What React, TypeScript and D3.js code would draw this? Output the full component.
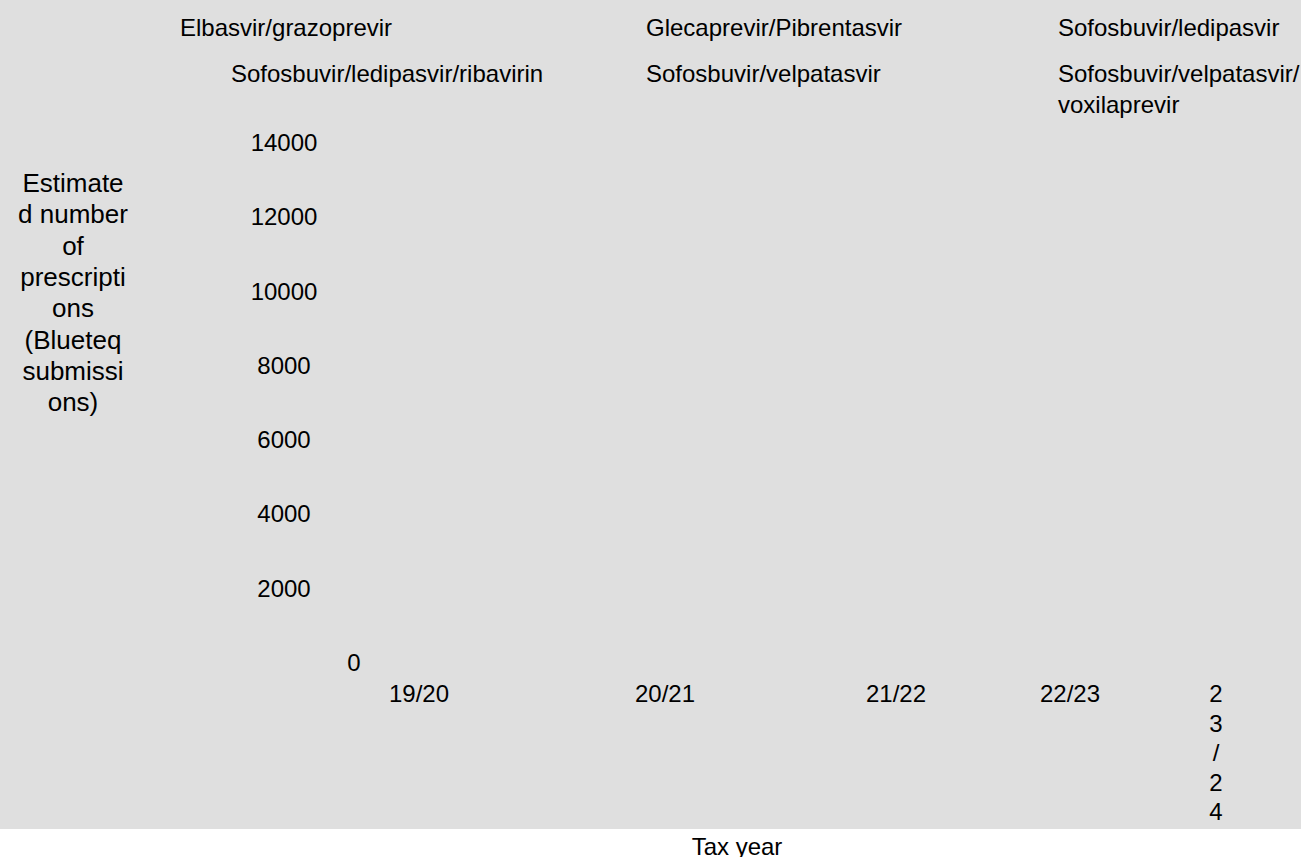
import React from 'react';
import * as d3 from 'd3';

// categories
const taxYears = ['19/20', '20/21', '21/22', '22/23', '23/24'];

// legend entries, in the order the legend shows them
const drugs = [
  'Elbasvir/grazoprevir',
  'Glecaprevir/Pibrentasvir',
  'Sofosbuvir/ledipasvir',
  'Sofosbuvir/ledipasvir/ribavirin',
  'Sofosbuvir/velpatasvir',
  'Sofosbuvir/velpatasvir/voxilaprevir',
];

// series values: no bar is visible in the picture, so every stack reads as 0
const elbasvirGrazoprevir = [0, 0, 0, 0, 0];
const glecaprevirPibrentasvir = [0, 0, 0, 0, 0];
const sofosbuvirLedipasvir = [0, 0, 0, 0, 0];
const sofosbuvirLedipasvirRibavirin = [0, 0, 0, 0, 0];
const sofosbuvirVelpatasvir = [0, 0, 0, 0, 0];
const sofosbuvirVelpatasvirVoxilaprevir = [0, 0, 0, 0, 0];

// tick labels
const yTicks = [0, 2000, 4000, 6000, 8000, 10000, 12000, 14000];
const yTitleLines = ['Estimate', 'd number', 'of', 'prescripti', 'ons', '(Blueteq', 'submissi', 'ons)'];
const xTitle = 'Tax year';

const W = 1301;
const H = 857;
const FONT = '"Liberation Sans", Arial, sans-serif';
const colors = ['#4e79a7', '#f28e2b', '#e15759', '#76b7b2', '#59a14f', '#edc948'];

const App: React.FC = () => {
  const series = [
    elbasvirGrazoprevir,
    glecaprevirPibrentasvir,
    sofosbuvirLedipasvir,
    sofosbuvirLedipasvirRibavirin,
    sofosbuvirVelpatasvir,
    sofosbuvirVelpatasvirVoxilaprevir,
  ];

  const table = taxYears.map((year, i) => {
    const row: Record<string, any> = { year };
    drugs.forEach((d, j) => { row[d] = series[j][i]; });
    return row;
  });
  const stacked = d3.stack<Record<string, any>>().keys(drugs)(table);

  const y = d3.scaleLinear().domain([0, 14000]).range([671, 151]);
  // category centres as the original lays them out (uneven spacing)
  const x = d3.scaleOrdinal<string, number>()
    .domain(taxYears)
    .range([419, 665, 896, 1070, 1216]);
  const barWidth = 40;

  // legend placement: two rows, three columns
  const legendX = [180, 646, 1058, 231, 646, 1058];
  const legendY = [36, 36, 36, 81.5, 81.5, 81.5];
  const legendLines = (name: string) =>
    name === 'Sofosbuvir/velpatasvir/voxilaprevir'
      ? ['Sofosbuvir/velpatasvir/', 'voxilaprevir']
      : [name];

  return (
    <svg
      width={W}
      height={H}
      viewBox={`0 0 ${W} ${H}`}
      style={{ position: 'absolute', left: 0, top: 0, display: 'block' }}
      fontFamily={FONT}
    >
      <rect x={0} y={0} width={W} height={829} fill="#dfdfdf" />

      {/* Legend */}
      <g>
        {drugs.map((d, i) => (
          <text key={d} x={legendX[i]} y={legendY[i]} fontSize={24} fill="#000">
            {legendLines(d).map((line, k) => (
              <tspan key={k} x={legendX[i]} dy={k === 0 ? 0 : 31.5}>{line}</tspan>
            ))}
          </text>
        ))}
      </g>

      {/* Bars (all zero) */}
      <g>
        {stacked.map((layer, j) => (
          <g key={layer.key} fill={colors[j]}>
            {layer.map((seg, i) => (
              <rect
                key={i}
                x={x(taxYears[i]) - barWidth / 2}
                y={y(seg[1])}
                width={barWidth}
                height={Math.max(0, y(seg[0]) - y(seg[1]))}
              />
            ))}
          </g>
        ))}
      </g>

      {/* Y axis tick labels */}
      <g fontSize={24} fill="#000" textAnchor="middle">
        {yTicks.map((t) => (
          <text key={t} x={t === 0 ? 354 : 284} y={y(t)}>{t}</text>
        ))}
      </g>

      {/* Y axis title */}
      <text x={73} y={192} fontSize={26} fill="#000" textAnchor="middle">
        {yTitleLines.map((line, k) => (
          <tspan key={k} x={73} dy={k === 0 ? 0 : 31.3}>{line}</tspan>
        ))}
      </text>

      {/* X axis tick labels */}
      <g fontSize={24} fill="#000" textAnchor="middle">
        {taxYears.map((t, i) => {
          const last = i === taxYears.length - 1;
          const lines = last ? t.split('') : [t];
          return (
            <text key={t} x={x(t)} y={702}>
              {lines.map((c, k) => (
                <tspan key={k} x={x(t)} dy={k === 0 ? 0 : 29.6}>{c}</tspan>
              ))}
            </text>
          );
        })}
      </g>

      {/* X axis title */}
      <text x={737} y={855} fontSize={24} fill="#000" textAnchor="middle">{xTitle}</text>
    </svg>
  );
};

export default App;
